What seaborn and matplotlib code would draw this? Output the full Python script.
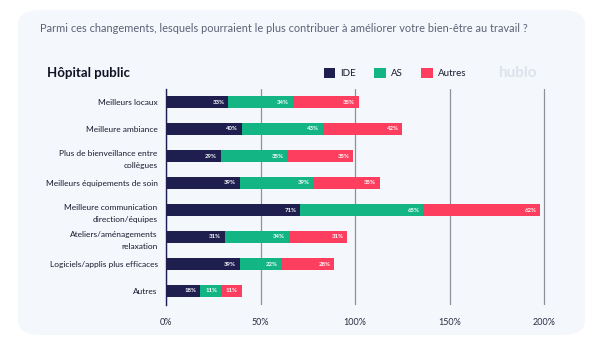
import pandas as pd
import matplotlib
matplotlib.use('Agg')
import matplotlib.pyplot as plt
import seaborn as sns
from matplotlib.patches import FancyBboxPatch, Patch

# Data
categories = [
    'Meilleurs locaux',
    'Meilleure ambiance',
    'Plus de bienveillance entre\ncollègues',
    'Meilleurs équipements de soin',
    'Meilleure communication\ndirection/équipes',
    'Ateliers/aménagements\nrelaxation',
    'Logiciels/applis plus efficaces',
    'Autres',
]
ide = [33, 40, 29, 39, 71, 31, 39, 18]
as_ = [34, 43, 35, 39, 65, 34, 22, 11]
autres = [35, 42, 35, 35, 62, 31, 28, 11]
series = ['IDE', 'AS', 'Autres']
colors = ['#1e1f4f', '#14b584', '#fd3e5e']
xticks = [0, 50, 100, 150, 200]

df = pd.DataFrame({'cat': categories, 'IDE': ide, 'AS': as_, 'Autres': autres})
df['c1'] = df['IDE']
df['c2'] = df['IDE'] + df['AS']
df['c3'] = df['c2'] + df['Autres']

sns.set_style('white')
plt.rcParams['font.family'] = ['Lato', 'DejaVu Sans']

fig = plt.figure(figsize=(6.05, 3.62), dpi=100)
fig.patch.set_facecolor('white')

# light card behind the chart
card = FancyBboxPatch((18 / 605, 1 - 335 / 362), 567 / 605, 325 / 362,
                      boxstyle='round,pad=0,rounding_size=0.04',
                      transform=fig.transFigure, facecolor='#f4f7fc',
                      edgecolor='none', zorder=-5)
fig.patches.append(card)

ax = fig.add_axes([166 / 605, 1 - 304.5 / 362, 380 / 605, 216 / 362])
ax.set_facecolor('none')
ax.set_zorder(2)

# stacked bars: draw cumulative totals from longest to shortest
for col, c in zip(['c3', 'c2', 'c1'], colors[::-1]):
    sns.barplot(data=df, x=col, y='cat', color=c, width=0.45, ax=ax,
                saturation=1, edgecolor='none', zorder=3)

# value labels at the right end of each segment
for i, row in df.iterrows():
    for col, val in zip(['c1', 'c2', 'c3'], [row['IDE'], row['AS'], row['Autres']]):
        ax.text(row[col] - 2, i, f'{val}%', ha='right', va='center',
                color='white', fontsize=4.3, fontweight='bold', zorder=5)

ax.set_xlim(0, 201)
ax.set_xticks(xticks)
ax.set_xticklabels([f'{t}%' for t in xticks], fontsize=6.5, color='#2b2d42')
ax.set_yticks(range(len(categories)))
ax.set_yticklabels(categories, linespacing=1.9)
ax.xaxis.grid(True, color='#8e9098', linewidth=0.9, zorder=1)
ax.set_axisbelow(True)
ax.set_xlabel('')
ax.set_ylabel('')
ax.tick_params(axis='x', length=0, pad=10)
ax.tick_params(axis='y', length=0, pad=6, labelsize=6, labelcolor='#1a1b2e')
for s in ['top', 'right', 'bottom']:
    ax.spines[s].set_visible(False)
ax.spines['left'].set_color('#1e1f4f')
ax.spines['left'].set_linewidth(1)

fig.text(40 / 605, 1 - 28 / 362,
         'Parmi ces changements, lesquels pourraient le plus contribuer à améliorer votre bien-être au travail ?',
         fontsize=7.9, color='#5b6275', va='center')
fig.text(47 / 605, 1 - 73 / 362, 'Hôpital public', fontsize=9.5,
         fontweight='bold', color='#111122', va='center')
fig.text(498 / 605, 1 - 73 / 362, 'hublo', fontsize=11, fontweight='bold',
         color='#dde2ec', va='center')

handles = [Patch(facecolor=c, edgecolor='none') for c in colors]
fig.legend(handles, series, loc='center left', ncol=3, frameon=False,
           bbox_to_anchor=(315 / 605, 1 - 73 / 362), fontsize=7,
           handlelength=1.2, handleheight=1.2, handletextpad=0.5,
           columnspacing=1.9, labelcolor='#1a1b2e')

fig.savefig('out.png', dpi=100, facecolor='white')
